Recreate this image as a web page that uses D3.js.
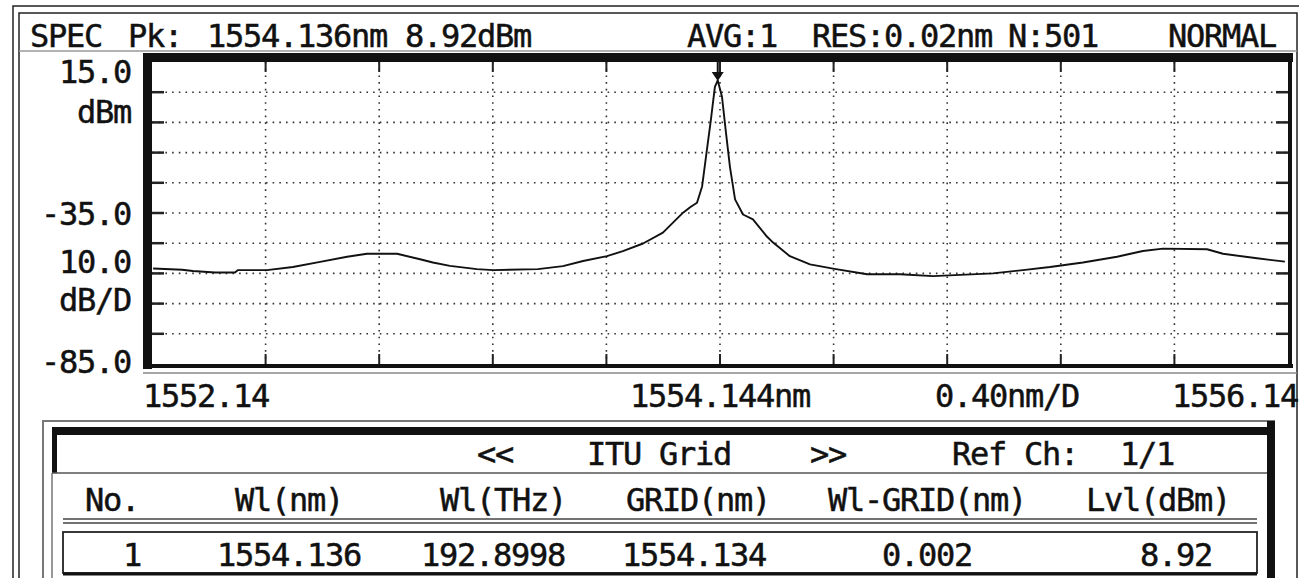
<!DOCTYPE html>
<html>
<head>
<meta charset="utf-8">
<script src="https://cdn.jsdelivr.net/npm/d3@7"></script>
<style>
  body { margin: 0; background: #fff; }
  text { font-family: "DejaVu Sans Mono", monospace; font-size: 32px; letter-spacing: -1.26px; fill: #111; stroke: #111; stroke-width: 0.5px; }
</style>
</head>
<body>
<div id="plot"></div>
<script>
// Trace (wavelength nm, level dBm)
const wavelength = [1552.148, 1552.25, 1552.288, 1552.366, 1552.436, 1552.447, 1552.549, 1552.64, 1552.736, 1552.831,
  1552.901, 1553.007, 1553.088, 1553.133, 1553.193, 1553.288, 1553.345, 1553.503, 1553.591, 1553.662,
  1553.746, 1553.802, 1553.873, 1553.943, 1554.014, 1554.04, 1554.063, 1554.081, 1554.098, 1554.112,
  1554.126, 1554.136, 1554.151, 1554.165, 1554.179, 1554.197, 1554.225, 1554.26, 1554.309, 1554.331,
  1554.39, 1554.461, 1554.542, 1554.662, 1554.778, 1554.894, 1555.105, 1555.211, 1555.306, 1555.422,
  1555.542, 1555.633, 1555.704, 1555.859, 1555.915, 1556.035, 1556.133];
const level = [-53.4, -53.8, -54.2, -54.7, -54.7, -53.9, -53.9, -52.9, -51.2, -49.5,
  -48.5, -48.5, -50.3, -51.4, -52.5, -53.6, -53.9, -53.6, -52.6, -50.9,
  -49.3, -47.6, -45.1, -41.5, -34.9, -33.0, -31.6, -26.2, -14.0, -4.1,
  6.8, 8.92, 3.5, -8.4, -19.7, -30.5, -35.5, -37.1, -42.8, -44.8,
  -49.3, -52.0, -53.4, -55.3, -55.3, -55.9, -55.0, -53.9, -52.9, -51.4,
  -49.5, -47.6, -46.8, -47.0, -48.5, -50.0, -51.1];

const peakWl = 1554.136;
const xDomain = [1552.144, 1556.144];
const yDomain = [-85, 15];
const xTicks = d3.range(11).map(i => 1552.144 + i * 0.4);
const yTicks = d3.range(11).map(i => -85 + i * 10);

const headerTexts = ["SPEC", "Pk:", "1554.136nm", "8.92dBm", "AVG:1", "RES:0.02nm", "N:501", "NORMAL"];
const yAxisTexts = ["15.0", "dBm", "-35.0", "10.0", "dB/D", "-85.0"];
const xAxisTexts = ["1552.14", "1554.144nm", "0.40nm/D", "1556.14"];
const titleTexts = ["<<", "ITU Grid", ">>", "Ref Ch:", "1/1"];
const tableHeaders = ["No.", "Wl(nm)", "Wl(THz)", "GRID(nm)", "Wl-GRID(nm)", "Lvl(dBm)"];
const tableRow = ["1", "1554.136", "192.8998", "1554.134", "0.002", "8.92"];

const W = 1299, H = 578;
const svg = d3.select("#plot").append("svg").attr("width", W).attr("height", H);

// outer screen frame
svg.append("path").attr("d", "M13,578 V6 H1299").attr("fill", "none").attr("stroke", "#222").attr("stroke-width", 1.5);
svg.append("path").attr("d", "M19,578 V13 H1297 V578").attr("fill", "none").attr("stroke", "#222").attr("stroke-width", 1.5);
svg.append("line").attr("x1", 19).attr("x2", 1297).attr("y1", 51).attr("y2", 51).attr("stroke", "#999").attr("stroke-width", 1.5);

// header line
const headerX = [30, 128, 207, 405, 687, 812, 1008, 1168];
svg.append("g").selectAll("text").data(headerTexts).join("text")
  .attr("x", (d, i) => headerX[i]).attr("y", 35).attr("dy", "0.36em").text(d => d);

// plot area
const plot = { left: 152, right: 1288, top: 62, bottom: 364 };
const x = d3.scaleLinear().domain(xDomain).range([plot.left, plot.right]);
const y = d3.scaleLinear().domain(yDomain).range([plot.bottom, plot.top]);

const grid = svg.append("g");
grid.selectAll(".hg").data(yTicks.slice(1, -1)).join("line")
  .attr("x1", plot.left).attr("x2", plot.right).attr("y1", d => y(d)).attr("y2", d => y(d))
  .attr("stroke", "#333").attr("stroke-width", 1.6).attr("stroke-dasharray", "1.6,5.1");
grid.selectAll(".vg").data(xTicks.slice(1, -1)).join("line")
  .attr("x1", d => x(d)).attr("x2", d => x(d)).attr("y1", plot.top).attr("y2", plot.bottom)
  .attr("stroke", "#333").attr("stroke-width", 1.6).attr("stroke-dasharray", "1.6,5.1");

// ticks on borders
grid.selectAll(".tl").data(yTicks.slice(1, -1)).join("line")
  .attr("x1", plot.left).attr("x2", plot.left + 12).attr("y1", d => y(d)).attr("y2", d => y(d))
  .attr("stroke", "#222").attr("stroke-width", 2.5);
grid.selectAll(".tr").data(yTicks.slice(1, -1)).join("line")
  .attr("x1", plot.right - 12).attr("x2", plot.right).attr("y1", d => y(d)).attr("y2", d => y(d))
  .attr("stroke", "#222").attr("stroke-width", 2.5);
grid.selectAll(".tt").data(xTicks.slice(1, -1)).join("line")
  .attr("x1", d => x(d)).attr("x2", d => x(d)).attr("y1", plot.top).attr("y2", plot.top + 10)
  .attr("stroke", "#222").attr("stroke-width", 2);
grid.selectAll(".tb").data(xTicks.slice(1, -1)).join("line")
  .attr("x1", d => x(d)).attr("x2", d => x(d)).attr("y1", plot.bottom - 10).attr("y2", plot.bottom)
  .attr("stroke", "#222").attr("stroke-width", 2);

// trace
const line = d3.line().x((d, i) => x(wavelength[i])).y(d => y(d));
svg.append("path").datum(level).attr("d", line)
  .attr("fill", "none").attr("stroke", "#111").attr("stroke-width", 1.9).attr("stroke-linejoin", "round");

// peak marker
const px = x(peakWl);
svg.append("line").attr("x1", px).attr("x2", px).attr("y1", plot.top).attr("y2", plot.top + 10)
  .attr("stroke", "#111").attr("stroke-width", 2);
svg.append("path").attr("d", `M${px - 6},${plot.top + 10} L${px + 6},${plot.top + 10} L${px},${plot.top + 19} Z`).attr("fill", "#111");

// thick borders
svg.append("rect").attr("x", 143).attr("y", 53).attr("width", 1150).attr("height", 9).attr("fill", "#111");
svg.append("rect").attr("x", 143).attr("y", 53).attr("width", 9).attr("height", 316).attr("fill", "#111");
svg.append("rect").attr("x", 143).attr("y", plot.bottom).attr("width", 1150).attr("height", 4).attr("fill", "#111");
svg.append("rect").attr("x", plot.right).attr("y", 53).attr("width", 4).attr("height", 315).attr("fill", "#111");
svg.append("line").attr("x1", 143).attr("x2", 1297).attr("y1", 373).attr("y2", 373).attr("stroke", "#888").attr("stroke-width", 1.5);

// y side labels
const yLabelY = [71, 111, y(-35), 261, 299, y(-85) - 3];
svg.append("g").selectAll("text").data(yAxisTexts).join("text")
  .attr("x", 131).attr("y", (d, i) => yLabelY[i]).attr("dy", "0.36em").attr("text-anchor", "end").text(d => d);

// x labels
const xLabelX = [143, 630, 935, 1298];
svg.append("g").selectAll("text").data(xAxisTexts).join("text")
  .attr("x", (d, i) => xLabelX[i]).attr("y", 395).attr("dy", "0.36em")
  .attr("text-anchor", (d, i) => i === 3 ? "end" : "start").text(d => d);

// table
svg.append("path").attr("d", "M43,578 V421 H1275").attr("fill", "none").attr("stroke", "#777").attr("stroke-width", 2);
svg.append("rect").attr("x", 52).attr("y", 427).attr("width", 1223).attr("height", 8).attr("fill", "#111");
svg.append("rect").attr("x", 1267).attr("y", 421).attr("width", 8).attr("height", 157).attr("fill", "#111");
svg.append("rect").attr("x", 52).attr("y", 427).attr("width", 5).attr("height", 46).attr("fill", "#111");
svg.append("line").attr("x1", 52).attr("x2", 52).attr("y1", 473).attr("y2", 578).attr("stroke", "#777").attr("stroke-width", 1.5);
svg.append("line").attr("x1", 52).attr("x2", 1267).attr("y1", 473).attr("y2", 473).attr("stroke", "#555").attr("stroke-width", 1.5);
svg.append("line").attr("x1", 63).attr("x2", 1257).attr("y1", 519).attr("y2", 519).attr("stroke", "#444").attr("stroke-width", 1.5);
svg.append("line").attr("x1", 63).attr("x2", 1257).attr("y1", 523).attr("y2", 523).attr("stroke", "#444").attr("stroke-width", 1.5);
svg.append("rect").attr("x", 63).attr("y", 532).attr("width", 1194).attr("height", 41)
  .attr("fill", "none").attr("stroke", "#222").attr("stroke-width", 1.8);
svg.append("line").attr("x1", 63).attr("x2", 1257).attr("y1", 574).attr("y2", 574).attr("stroke", "#111").attr("stroke-width", 3);

const titleX = [477, 587, 810, 952, 1120];
svg.append("g").selectAll("text").data(titleTexts).join("text")
  .attr("x", (d, i) => titleX[i]).attr("y", 453).attr("dy", "0.36em").attr("xml:space", "preserve").text(d => d);

const headX = [85, 235, 440, 626, 828, 1086];
svg.append("g").selectAll("text").data(tableHeaders).join("text")
  .attr("x", (d, i) => headX[i]).attr("y", 499).attr("dy", "0.36em").text(d => d);

const rowX = [123, 217, 421, 622, 882, 1140];
svg.append("g").selectAll("text").data(tableRow).join("text")
  .attr("x", (d, i) => rowX[i]).attr("y", 554).attr("dy", "0.36em").text(d => d);
</script>
</body>
</html>
